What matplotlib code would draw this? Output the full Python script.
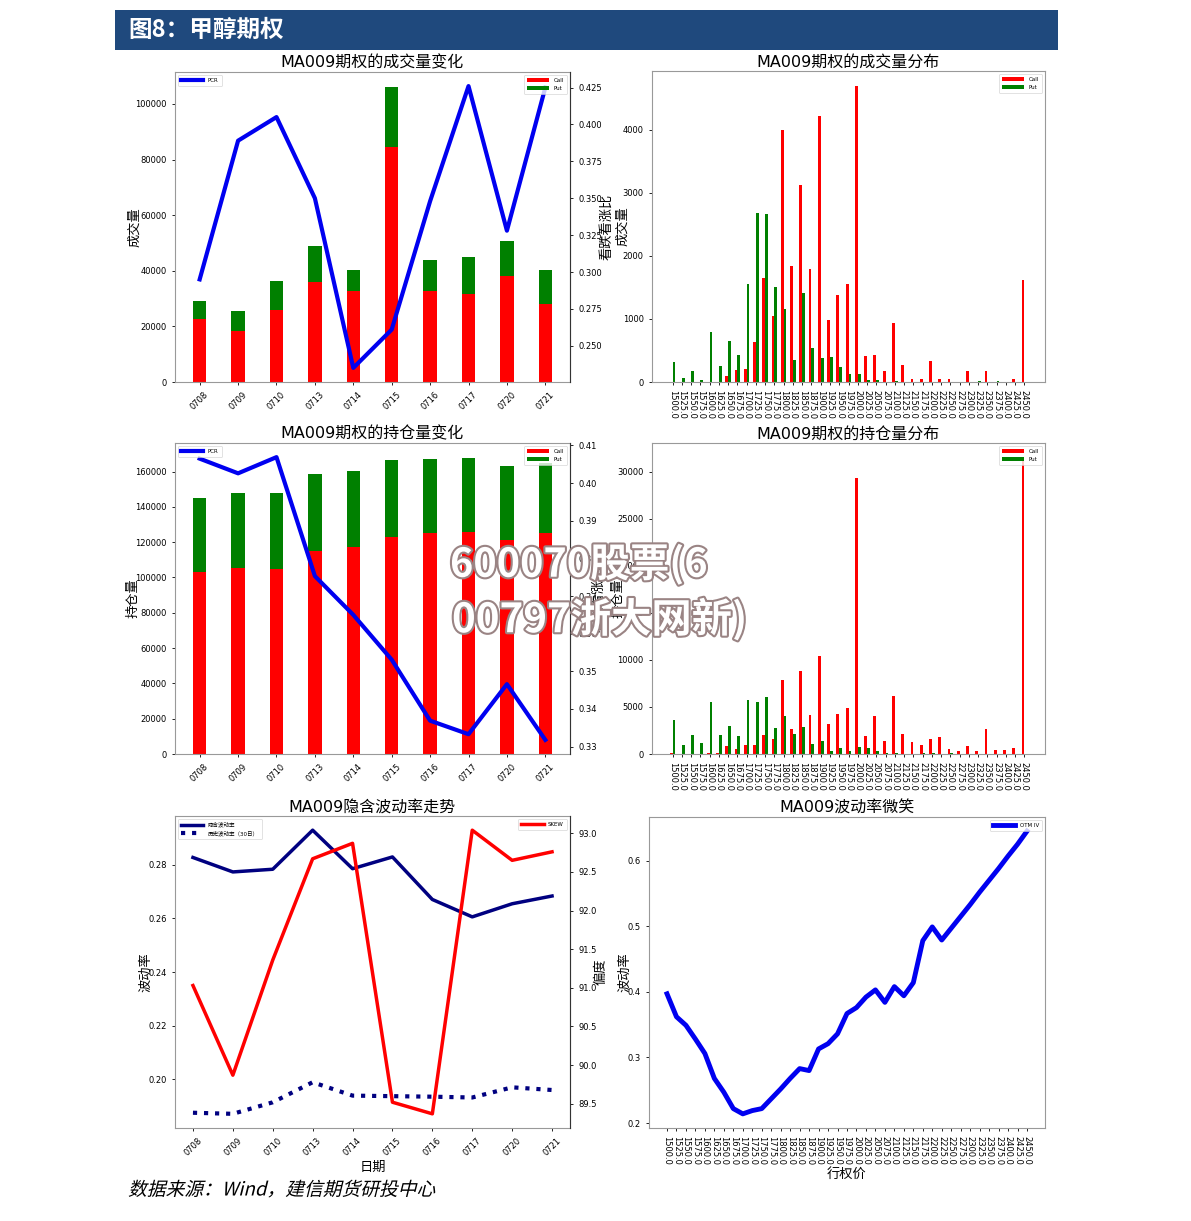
import numpy as np
import matplotlib
matplotlib.use("Agg")
import matplotlib.pyplot as plt
import matplotlib.patheffects as pe
from matplotlib.patches import Rectangle
from matplotlib.transforms import Affine2D

plt.rcParams['font.family'] = ['DejaVu Sans', 'Noto Sans CJK SC']
plt.rcParams['axes.unicode_minus'] = False

# ---- data ----
dates = ['0708', '0709', '0710', '0713', '0714', '0715', '0716', '0717', '0720', '0721']

# 成交量变化
vol_call = [22500, 18200, 26000, 36000, 32800, 84500, 32800, 31500, 38200, 28200]
vol_put = [6700, 7300, 10500, 12800, 7400, 21700, 11200, 13500, 12600, 12000]
vol_pcr = [0.295, 0.389, 0.405, 0.350, 0.235, 0.261, 0.348, 0.426, 0.328, 0.425]

# 持仓量变化
oi_call = [103300, 105500, 105000, 115000, 117300, 122900, 125000, 126000, 121200, 125000]
oi_put = [42000, 42200, 43100, 43500, 43100, 43500, 42200, 41800, 42000, 39700]
oi_pcr = [0.4065, 0.4026, 0.4069, 0.3753, 0.3650, 0.3531, 0.3369, 0.3333, 0.3466, 0.3318]

strikes = ['1500.0', '1525.0', '1550.0', '1575.0', '1600.0', '1625.0', '1650.0', '1675.0',
           '1700.0', '1725.0', '1750.0', '1775.0', '1800.0', '1825.0', '1850.0', '1875.0',
           '1900.0', '1925.0', '1950.0', '1975.0', '2000.0', '2025.0', '2050.0', '2075.0',
           '2100.0', '2125.0', '2150.0', '2175.0', '2200.0', '2225.0', '2250.0', '2275.0',
           '2300.0', '2325.0', '2350.0', '2375.0', '2400.0', '2425.0', '2450.0']

# 成交量分布
dvol_call = [0, 0, 0, 0, 0, 0, 90, 196, 201, 630, 1651, 1042, 3995, 1841, 3132, 1799,
             4222, 989, 1376, 1561, 4698, 407, 434, 169, 942, 275, 53, 42, 328, 53,
             53, 0, 175, 0, 169, 0, 0, 42, 1614]
dvol_put = [317, 69, 169, 37, 788, 254, 645, 434, 1561, 2683, 2667, 1508, 1164, 344, 1413, 540,
            381, 392, 238, 122, 122, 26, 26, 0, 10, 0, 0, 0, 0, 0,
            0, 0, 0, 10, 0, 10, 0, 0, 0]

# 持仓量分布
doi_call = [140, 0, 0, 0, 140, 70, 851, 496, 922, 922, 2021, 1596, 7872, 2660, 8794, 4113,
            10461, 3227, 4220, 4929, 29326, 1915, 4078, 1418, 6170, 2092, 1241, 957, 1631, 1844,
            496, 319, 851, 355, 2695, 426, 426, 674, 31500]
doi_put = [3617, 922, 2021, 1206, 5496, 1986, 3014, 1915, 5745, 5567, 6028, 2730, 4043, 2128, 2872, 1064,
           1348, 355, 638, 355, 780, 638, 284, 70, 140, 0, 0, 140, 140, 0,
           70, 0, 0, 0, 0, 0, 0, 0, 0]

# 隐含波动率走势
iv = [0.2828, 0.2774, 0.2784, 0.2930, 0.2786, 0.2830, 0.2671, 0.2606, 0.2655, 0.2684]
hv = [0.1874, 0.1870, 0.1913, 0.1988, 0.1938, 0.1936, 0.1934, 0.1931, 0.1969, 0.1959]
skew = [91.03, 89.87, 91.36, 92.67, 92.87, 89.52, 89.37, 93.04, 92.65, 92.76]

# 波动率微笑
otm_iv = [0.397, 0.362, 0.349, 0.328, 0.306, 0.268, 0.247, 0.222, 0.214, 0.219,
          0.222, 0.237, 0.252, 0.268, 0.283, 0.280, 0.313, 0.321, 0.336, 0.367,
          0.376, 0.392, 0.403, 0.384, 0.408, 0.394, 0.414, 0.478, 0.499, 0.479,
          0.497, 0.515, 0.533, 0.552, 0.570, 0.588, 0.607, 0.625, 0.645]

W, H = 1191, 1221


def box(left, right, top, bottom):
    return [left / W, 1 - bottom / H, (right - left) / W, (bottom - top) / H]


class Slant(pe.AbstractPathEffect):
    # fake italic for the source line
    def draw_path(self, renderer, gc, tpath, affine, rgbFace=None):
        renderer.draw_path(gc, tpath, Affine2D().skew_deg(14, 0) + affine, rgbFace)


def style(ax):
    for s in ax.spines.values():
        s.set_color('#999999')
    ax.tick_params(labelsize=6, length=2.5, width=0.6)


def small_legend(ax, loc, handles=None, labels=None):
    if handles is None:
        leg = ax.legend(loc=loc, fontsize=4, handlelength=4, borderpad=0.6)
    else:
        leg = ax.legend(handles, labels, loc=loc, fontsize=4, handlelength=4, borderpad=0.6)
    leg.get_frame().set_linewidth(0.5)
    return leg


fig = plt.figure(figsize=(W / 100, H / 100), dpi=100)
fig.patch.set_facecolor('white')

# banner
fig.patches.append(Rectangle((115 / W, 1 - 50 / H), 943 / W, 40 / H, transform=fig.transFigure,
                             facecolor='#1f497d', edgecolor='none'))
fig.text(128 / W, 1 - 30 / H, '图8：甲醇期权', color='white', fontsize=17, fontweight='bold',
         va='center', ha='left', family=['Noto Sans CJK SC'])

x = np.arange(len(dates))
xs = np.arange(len(strikes))


def stacked_panel(rect, call, put, pcr, title, ylabel):
    ax = fig.add_axes(rect)
    b1 = ax.bar(x, call, width=0.35, color='red')
    b2 = ax.bar(x, put, width=0.35, bottom=call, color='green')
    ax.set_xticks(x)
    ax.set_xticklabels(dates, rotation=45)
    style(ax)
    ax.set_title(title, fontsize=11.5, pad=3)
    ax.set_ylabel(ylabel, fontsize=9.5)
    tw = ax.twinx()
    tw.plot(x, pcr, color='#0000f0', lw=3, label='PCR')
    tw.tick_params(labelsize=6, length=2.5, width=0.6)
    tw.spines['right'].set_color('#333333')
    for s in ['left', 'top', 'bottom']:
        tw.spines[s].set_visible(False)
    tw.set_ylabel('看跌看涨比', fontsize=9.5)
    leg1 = small_legend(tw, 'upper left')
    tw.add_artist(leg1)
    small_legend(tw, 'upper right', [b1, b2], ['Call', 'Put'])
    return ax, tw


def dist_panel(rect, call, put, title, ylabel):
    ax = fig.add_axes(rect)
    ax.bar(xs - 0.15, call, width=0.3, color='red', label='Call')
    ax.bar(xs + 0.15, put, width=0.3, color='green', label='Put')
    ax.set_xticks(xs)
    ax.set_xticklabels(strikes, rotation=270, fontsize=5.5)
    style(ax)
    ax.set_title(title, fontsize=11.5, pad=3)
    ax.set_ylabel(ylabel, fontsize=9.5)
    small_legend(ax, 'upper right')
    return ax


# top row
ax1, tw1 = stacked_panel(box(175, 570, 72, 382), vol_call, vol_put, vol_pcr,
                         'MA009期权的成交量变化', '成交量')
ax1.yaxis.set_label_coords(-0.085, 0.5)
tw1.yaxis.set_label_coords(1.078, 0.5)

ax2 = dist_panel(box(652, 1045, 71, 382), dvol_call, dvol_put, 'MA009期权的成交量分布', '成交量')
ax2.yaxis.set_label_coords(-0.057, 0.5)

# middle row
ax3, tw3 = stacked_panel(box(175, 570, 443, 754), oi_call, oi_put, oi_pcr,
                         'MA009期权的持仓量变化', '持仓量')
ax3.yaxis.set_label_coords(-0.09, 0.5)
tw3.yaxis.set_label_coords(1.057, 0.5)

ax4 = dist_panel(box(652, 1045, 443, 754), doi_call, doi_put, 'MA009期权的持仓量分布', '持仓量')
ax4.yaxis.set_label_coords(-0.07, 0.5)

# bottom left: implied vol trend
ax5 = fig.add_axes(box(175, 570, 816, 1128))
ax5.plot(x, iv, color='#000080', lw=2.5, label='隐含波动率')
ax5.plot(x, hv, color='#000080', lw=3, ls=':', label='历史波动率（30日）')
ax5.set_xticks(x)
ax5.set_xticklabels(dates, rotation=45)
style(ax5)
ax5.set_title('MA009隐含波动率走势', fontsize=11.5, pad=3)
ax5.set_ylabel('波动率', fontsize=9.5)
ax5.set_xlabel('日期', fontsize=9.5, labelpad=2)
ax5.yaxis.set_label_coords(-0.057, 0.5)
small_legend(ax5, 'upper left')
tw5 = ax5.twinx()
tw5.plot(x, skew, color='red', lw=2.5, label='SKEW')
tw5.tick_params(labelsize=6, length=2.5, width=0.6)
tw5.spines['right'].set_color('#333333')
for s in ['left', 'top', 'bottom']:
    tw5.spines[s].set_visible(False)
tw5.set_ylabel('偏度', fontsize=9.5)
tw5.yaxis.set_label_coords(1.063, 0.5)
small_legend(tw5, 'upper right')

# bottom right: smile
ax6 = fig.add_axes(box(649, 1045, 817, 1128))
ax6.plot(xs, otm_iv, color='#0000f0', lw=3.5, label='OTM IV')
ax6.set_xticks(xs)
ax6.set_xticklabels(strikes, rotation=270, fontsize=5.5)
style(ax6)
ax6.set_title('MA009波动率微笑', fontsize=11.5, pad=3)
ax6.set_ylabel('波动率', fontsize=9.5)
ax6.set_xlabel('行权价', fontsize=9.5, labelpad=2)
ax6.yaxis.set_label_coords(-0.045, 0.5)
small_legend(ax6, 'upper right')

# source line
fig.text(128 / W, 1 - 1190 / H, '数据来源：Wind，建信期货研投中心', fontsize=13.5, va='center', ha='left',
         family=['Noto Sans CJK SC'], path_effects=[Slant()])

# watermark
wm_fx = [pe.Stroke(linewidth=3, foreground='#9a8484'), pe.Normal()]
fig.text(450 / W, 1 - 565 / H, '600070股票(6', fontsize=28.5, color='white', fontweight='bold',
         va='center', ha='left', family=['Noto Sans CJK SC'], path_effects=wm_fx, zorder=10)
fig.text(452 / W, 1 - 620 / H, '00797浙大网新)', fontsize=29, color='white', fontweight='bold',
         va='center', ha='left', family=['Noto Sans CJK SC'], path_effects=wm_fx, zorder=10)

fig.savefig('out.png', dpi=100, facecolor='white')
